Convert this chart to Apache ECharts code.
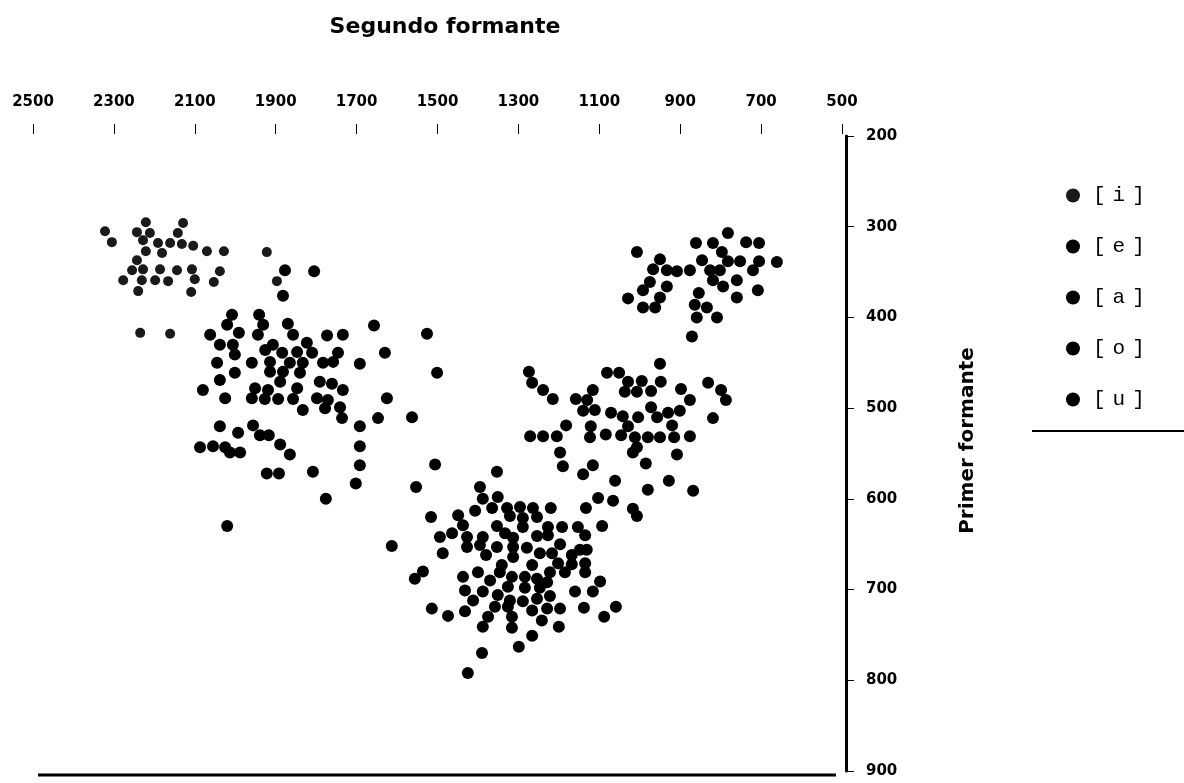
<!DOCTYPE html>
<html>
<head>
<meta charset="utf-8">
<title>Formantes</title>
<script src="https://cdn.jsdelivr.net/npm/echarts@6/dist/echarts.min.js"></script>
<style>
    html, body { margin: 0; padding: 0; background: #fff; }
    #chart { width: 1184px; height: 783px; }
</style>
</head>
<body>
<div id="chart"></div>
<script>
// valores: [F2, F1] en Hz
const vocalI = [
    [2322, 305], [2305, 317], [2221, 295], [2243, 306], [2211, 307], [2228, 315], [2191, 318],
    [2161, 318], [2181, 329], [2221, 327], [2129, 296], [2142, 307], [2132, 319], [2104, 321],
    [2070, 327], [2028, 327], [1922, 328], [2243, 337], [2255, 348], [2228, 347], [2186, 347],
    [2144, 348], [2107, 347], [2038, 349], [2277, 359], [2231, 359], [2198, 359], [2166, 360],
    [2100, 358], [2053, 361], [2240, 371], [2109, 372], [1897, 360], [2235, 417], [2161, 418]
]
const vocalE = [
    [1877, 348], [1805, 349], [1882, 376],
    [2008, 397], [1941, 397], [1870, 407], [2020, 408], [1931, 408], [2062, 419], [1991, 417],
    [1944, 419], [1857, 419], [1773, 420], [1734, 419], [1657, 409], [1526, 418], [2038, 430],
    [2006, 430], [1907, 430], [1823, 428], [2001, 441], [1926, 436], [1884, 439], [1847, 438],
    [1810, 439], [1746, 439], [1630, 439], [2045, 450], [1959, 450], [1914, 449], [1865, 450],
    [1833, 450], [1783, 450], [1758, 449], [1692, 451], [2001, 461], [1914, 460], [1882, 460],
    [1840, 461], [2038, 469], [1889, 471], [1791, 471], [1761, 473], [2080, 480], [1951, 478],
    [1919, 480], [1847, 478], [1734, 480], [2025, 489], [1959, 489], [1927, 490], [1894, 490],
    [1857, 490], [1798, 489], [1771, 491], [1625, 489], [1833, 502], [1778, 500], [1741, 499],
    [1736, 511], [1692, 520], [1647, 511], [1563, 510], [2038, 520], [1956, 519], [1993, 527],
    [1939, 530], [1917, 530], [1889, 540], [2087, 543], [2055, 542], [2025, 543], [2013, 549],
    [1988, 549], [1865, 551], [1692, 542], [1692, 563], [1922, 572], [1892, 572], [1808, 570],
    [1702, 583], [1553, 587], [1776, 600], [2020, 630], [1501, 461], [1506, 562], [1516, 620],
    [1613, 652]
]
const vocalA = [
    [1353, 570], [1395, 587], [1388, 600], [1351, 598], [1407, 613], [1365, 610], [1328, 610],
    [1296, 609], [1264, 610], [1449, 618], [1437, 629], [1321, 619], [1289, 621], [1254, 620],
    [1353, 630], [1289, 631], [1227, 631], [1192, 631], [1153, 631], [1494, 642], [1464, 638],
    [1427, 642], [1388, 642], [1333, 638], [1313, 643], [1254, 641], [1227, 640], [1135, 640],
    [1487, 660], [1427, 653], [1395, 651], [1380, 662], [1353, 653], [1313, 653], [1279, 654],
    [1247, 660], [1217, 660], [1197, 650], [1168, 662], [1148, 656], [1131, 656], [1313, 664],
    [1341, 673], [1266, 673], [1202, 671], [1168, 672], [1135, 671], [1536, 680], [1556, 688],
    [1437, 686], [1400, 681], [1370, 690], [1346, 681], [1316, 686], [1284, 686], [1254, 688],
    [1222, 681], [1185, 681], [1135, 681], [1229, 692], [1432, 701], [1388, 702], [1326, 697],
    [1284, 698], [1247, 698], [1160, 702], [1116, 702], [1098, 691], [1412, 712], [1351, 706],
    [1321, 712], [1289, 713], [1254, 710], [1222, 707], [1514, 721], [1474, 729], [1432, 724],
    [1358, 719], [1326, 719], [1266, 723], [1229, 721], [1197, 721], [1138, 720], [1059, 719],
    [1088, 730], [1375, 730], [1316, 730], [1242, 734], [1388, 741], [1316, 742], [1200, 741],
    [1266, 751], [1299, 763], [1390, 770], [1425, 792]
]
const vocalO = [
    [1274, 460], [1266, 472], [1239, 480], [1215, 490], [950, 451], [1081, 461], [1051, 461],
    [1029, 471], [995, 470], [948, 471], [1037, 482], [1007, 482], [972, 481], [1116, 480],
    [1158, 490], [1130, 491], [898, 479], [876, 491], [831, 472], [799, 480], [787, 491],
    [1140, 503], [1111, 502], [1071, 505], [1042, 509], [1004, 510], [972, 499], [957, 510],
    [930, 505], [901, 503], [819, 511], [1182, 519], [1121, 520], [1029, 520], [920, 519],
    [1271, 531], [1239, 531], [1205, 531], [1123, 532], [1084, 529], [1046, 530], [1012, 532],
    [980, 532], [950, 532], [915, 532], [876, 531], [1007, 543], [1017, 549], [908, 551],
    [1197, 549], [1190, 564], [1116, 563], [1140, 573], [985, 561], [1061, 580], [928, 580],
    [980, 590], [868, 591], [1103, 599], [1066, 602], [1133, 610], [1017, 611], [1007, 619],
    [1220, 610], [1093, 630]
]
const vocalU = [
    [782, 307], [861, 318], [819, 318], [737, 317], [705, 318], [1007, 328], [797, 328],
    [782, 338], [752, 338], [705, 338], [661, 339], [950, 336], [967, 347], [933, 348],
    [908, 349], [876, 348], [846, 337], [826, 348], [802, 348], [760, 359], [720, 348],
    [975, 361], [992, 370], [933, 366], [819, 359], [794, 366], [708, 370], [1029, 379],
    [950, 378], [854, 373], [760, 378], [992, 389], [962, 389], [864, 386], [834, 389],
    [859, 400], [809, 400], [871, 421]
]

const vocales = ['[i]', '[e]', '[a]', '[o]', '[u]']
const xTicks = { min: 500, max: 2500, step: 200 }
const yTicks = { min: 200, max: 900, step: 100 }

const chart = echarts.init(document.getElementById('chart'))

function serie(name, data, size, color) {
    return {
        name: name,
        type: 'scatter',
        data: data,
        symbol: 'circle',
        symbolSize: size,
        itemStyle: { color: color, opacity: 1 },
        emphasis: { disabled: true }
    }
}

chart.setOption({
    animation: false,
    backgroundColor: '#fff',
    title: {
        text: 'Segundo formante',
        left: 440,
        top: 11,
        textAlign: 'center',
        textStyle: { fontFamily: 'DejaVu Sans', fontWeight: 'bold', fontSize: 22, color: '#000' }
    },
    grid: { left: 33, right: 342, top: 136, bottom: 12 },
    legend: {
        data: vocales,
        orient: 'vertical',
        left: 1061,
        top: 180,
        itemWidth: 14,
        itemHeight: 14,
        itemGap: 30,
        icon: 'circle',
        formatter: function (name) {
            return '{b|' + name[0] + '}{c|' + name.slice(1, -1) + '}{d|' + name.slice(-1) + '}'
        },
        textStyle: {
            fontFamily: 'Liberation Mono',
            fontSize: 21,
            color: '#000',
            rich: {
                b: { fontFamily: 'Liberation Mono', fontSize: 21, color: '#000', padding: [0, 0, 0, 8] },
                c: { fontFamily: 'Liberation Mono', fontSize: 21, color: '#000', padding: [0, 7, 0, 7] },
                d: { fontFamily: 'Liberation Mono', fontSize: 21, color: '#000' }
            }
        }
    },
    xAxis: {
        type: 'value',
        position: 'top',
        inverse: true,
        min: xTicks.min,
        max: xTicks.max,
        interval: xTicks.step,
        offset: 2,
        axisLine: { show: false },
        axisTick: { show: true, length: 10, lineStyle: { color: '#000', width: 1 } },
        axisLabel: {
            margin: 24,
            color: '#000',
            fontFamily: 'DejaVu Sans',
            fontWeight: 'bold',
            fontSize: 15,
            formatter: function (v) { return String(v) }
        },
        splitLine: { show: false }
    },
    yAxis: {
        type: 'value',
        position: 'right',
        inverse: true,
        min: yTicks.min,
        max: yTicks.max,
        interval: yTicks.step,
        offset: 4,
        name: 'Primer formante',
        nameLocation: 'middle',
        nameRotate: 90,
        nameGap: 112,
        nameTextStyle: {
            fontFamily: 'DejaVu Sans', fontWeight: 'bold', fontSize: 20, color: '#000',
            padding: [0, 0, 0, 26]
        },
        axisLine: { show: true, lineStyle: { color: '#000', width: 3 } },
        axisTick: { show: true, length: 8, lineStyle: { color: '#000', width: 1 } },
        axisLabel: {
            margin: 20,
            color: '#000',
            fontFamily: 'DejaVu Sans',
            fontWeight: 'bold',
            fontSize: 15,
            formatter: function (v) { return String(v) }
        },
        splitLine: { show: false }
    },
    series: [
        serie('[i]', vocalI, 10, '#1a1a1a'),
        serie('[e]', vocalE, 12, '#000'),
        serie('[a]', vocalA, 12, '#000'),
        serie('[o]', vocalO, 12, '#000'),
        serie('[u]', vocalU, 12, '#000')
    ],
    graphic: [
        {
            type: 'line',
            shape: { x1: 38, y1: 775, x2: 836, y2: 775 },
            style: { stroke: '#000', lineWidth: 3 }
        },
        {
            type: 'line',
            shape: { x1: 1032, y1: 431, x2: 1184, y2: 431 },
            style: { stroke: '#000', lineWidth: 2 }
        }
    ]
})
</script>
</body>
</html>
